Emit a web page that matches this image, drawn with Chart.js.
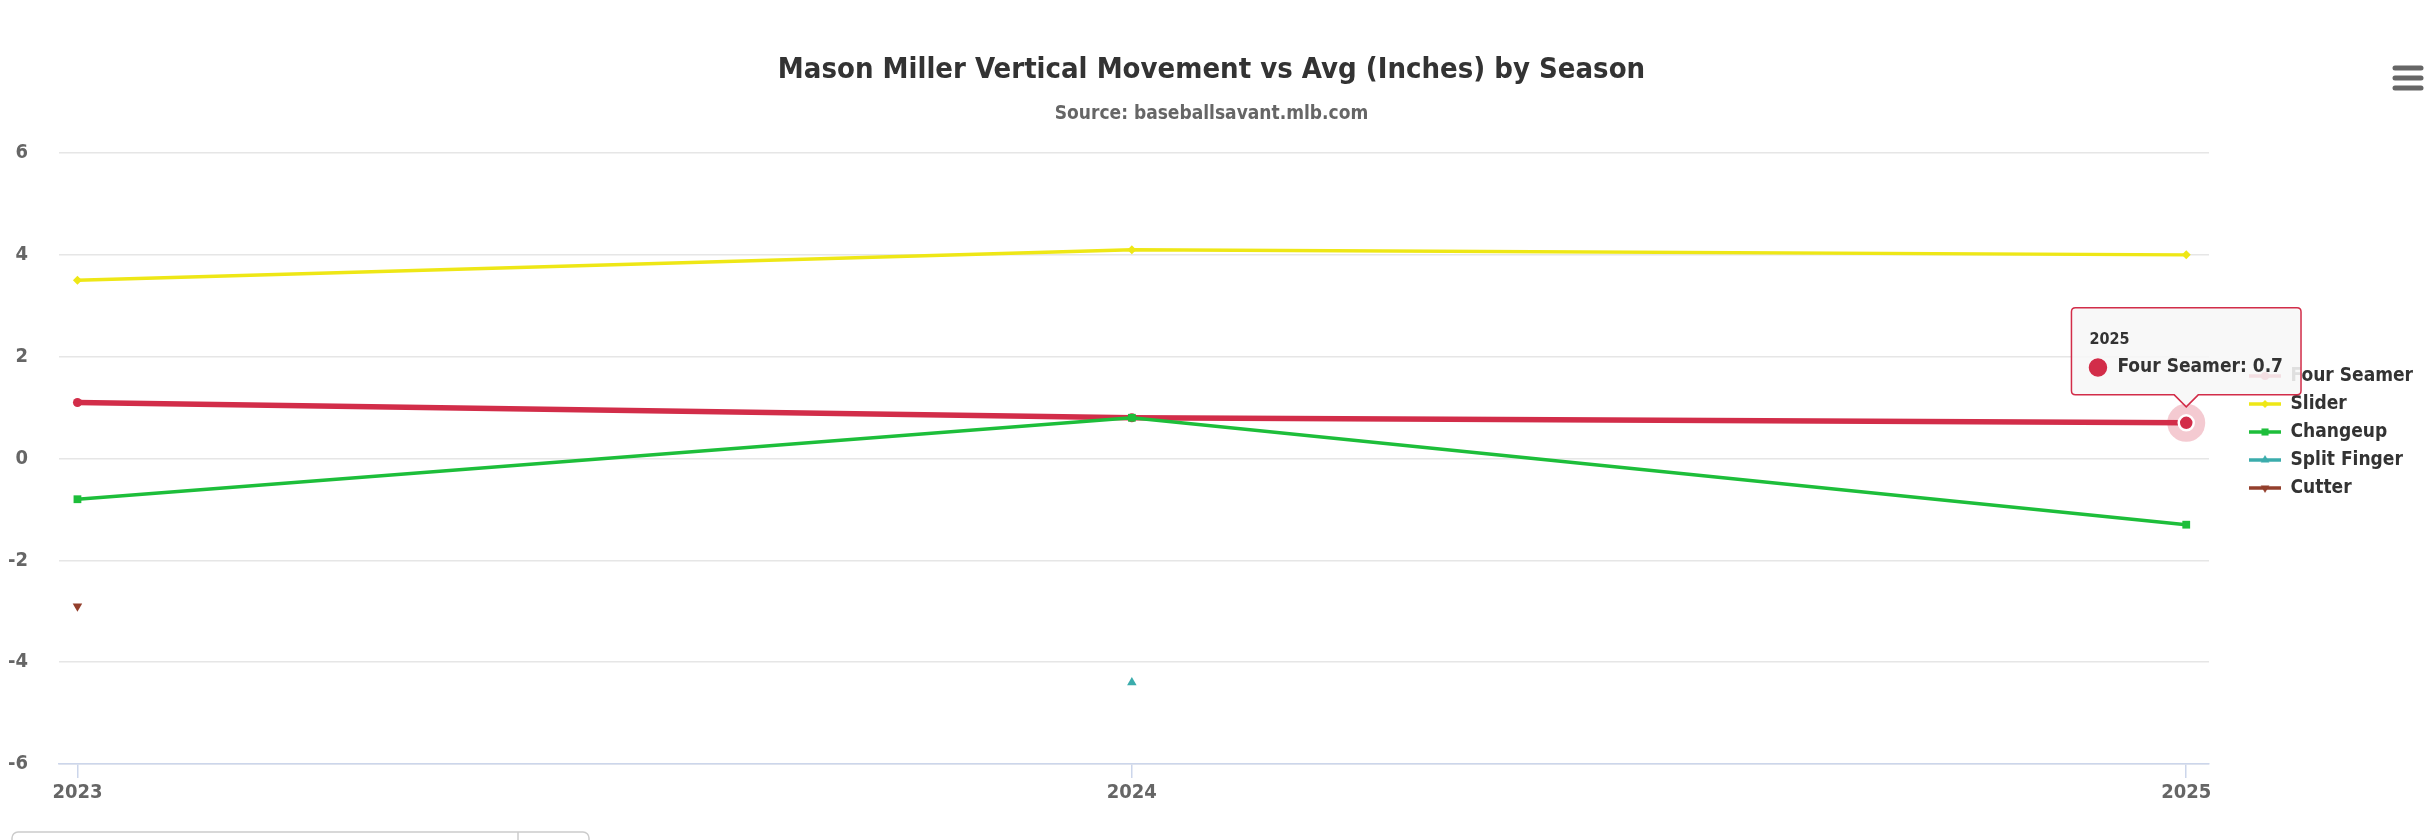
<!DOCTYPE html>
<html>
<head>
<meta charset="utf-8">
<script src="https://cdn.jsdelivr.net/npm/chart.js@4.4.1/dist/chart.umd.min.js"></script>
<style>
html,body{margin:0;padding:0;background:#fff;overflow:hidden}
#wrap{position:relative;width:2426px;height:840px}
</style>
</head>
<body>
<div id="wrap"><canvas id="c"></canvas></div>
<script>
// ---- data ----
const seasons = [2023, 2024, 2025];
const fourSeamer = [1.1, 0.8, 0.7];
const slider = [3.5, 4.1, 4.0];
const changeup = [-0.8, 0.8, -1.3];
const splitFinger = [null, -4.4, null];
const cutter = [-2.9, null, null];
const yTickValues = [-6, -4, -2, 0, 2, 4, 6];
const titleText = 'Mason Miller Vertical Movement vs Avg (Inches) by Season';
const subtitleText = 'Source: baseballsavant.mlb.com';

// ---- styling ----
const FONT = "'Liberation Sans Narrow', 'DejaVu Sans Condensed', Roboto, sans-serif";

function toPoints(vals) {
  return seasons.map((s, i) => ({ x: s, y: vals[i] }));
}

function legendIcon(color, style, rotation, radius) {
  const cv = document.createElement('canvas');
  cv.width = 32; cv.height = 16;
  const ctx = cv.getContext('2d');
  ctx.strokeStyle = color;
  ctx.lineWidth = 3.5;
  ctx.beginPath(); ctx.moveTo(0, 8); ctx.lineTo(32, 8); ctx.stroke();
  ctx.fillStyle = color;
  Chart.helpers.drawPoint(ctx, { pointStyle: style, rotation: rotation, radius: radius, borderWidth: 0 }, 16, 8);
  return cv;
}

const seriesDefs = [
  { label: 'Four Seamer', values: fourSeamer, color: '#d22d49', style: 'circle', rot: 0, r: 4.5, w: 5.5 },
  { label: 'Slider', values: slider, color: '#eee716', style: 'rectRot', rot: 0, r: 4.5, w: 3.4 },
  { label: 'Changeup', values: changeup, color: '#1dbe3a', style: 'rect', rot: 0, r: 5.5, w: 3.4 },
  { label: 'Split Finger', values: splitFinger, color: '#3bacac', style: 'triangle', rot: 0, r: 5.5, w: 3.4 },
  { label: 'Cutter', values: cutter, color: '#933f2c', style: 'triangle', rot: 180, r: 5.5, w: 3.4 }
];

const datasets = seriesDefs.map((d, i) => ({
  label: d.label,
  data: toPoints(d.values),
  borderColor: d.color,
  backgroundColor: d.color,
  borderWidth: d.w,
  pointStyle: d.style,
  pointRotation: d.rot,
  pointRadius: d.r,
  pointBorderWidth: 0,
  pointBackgroundColor: d.color,
  pointHoverRadius: i === 0 ? 7.5 : d.r,
  pointHoverBorderWidth: i === 0 ? 2.5 : 0,
  pointHoverBorderColor: '#ffffff',
  pointHoverBackgroundColor: d.color,
  tension: 0,
  spanGaps: false,
  order: 5 - i,
  legendIcon: legendIcon(d.color, d.style, d.rot, d.r - 0.5)
}));

const haloPlugin = {
  id: 'halo',
  beforeDatasetsDraw(chart) {
    const ctx = chart.ctx;
    chart.getActiveElements().forEach(a => {
      const el = a.element;
      ctx.save();
      ctx.fillStyle = 'rgba(210,45,73,0.25)';
      ctx.beginPath(); ctx.arc(el.x, el.y, 19, 0, Math.PI * 2); ctx.fill();
      ctx.restore();
    });
  }
};

const decorPlugin = {
  id: 'decor',
  afterDraw(chart) {
    const ctx = chart.ctx;
    ctx.save();
    // menu icon
    ctx.strokeStyle = '#666666';
    ctx.lineWidth = 5;
    ctx.lineCap = 'round';
    [68, 78, 88].forEach(y => {
      ctx.beginPath(); ctx.moveTo(2395, y); ctx.lineTo(2421, y); ctx.stroke();
    });
    // partial control box at the bottom
    ctx.strokeStyle = '#cccccc';
    ctx.lineWidth = 1.5;
    ctx.lineCap = 'butt';
    ctx.beginPath();
    ctx.roundRect(12, 832, 577, 40, 6);
    ctx.stroke();
    ctx.beginPath(); ctx.moveTo(518, 832); ctx.lineTo(518, 840); ctx.stroke();
    ctx.restore();
  }
};

const chart = new Chart(document.getElementById('c'), {
  type: 'line',
  data: { datasets: datasets },
  plugins: [haloPlugin, decorPlugin],
  options: {
    responsive: true,
    maintainAspectRatio: false,
    animation: false,
    layout: { padding: { top: 0, left: 0, right: 3, bottom: 40 } },
    interaction: { mode: 'nearest', intersect: true },
    scales: {
      x: {
        type: 'linear',
        min: seasons[0] - 0.0175,
        max: seasons[seasons.length - 1] + 0.0216,
        afterBuildTicks: s => { s.ticks = seasons.map(v => ({ value: v })); },
        afterFit: s => { s.height = 36; },
        grid: { drawOnChartArea: false, drawTicks: true, tickLength: 14, color: '#ccd6eb', lineWidth: 1.5 },
        border: { display: true, color: '#ccd6eb', width: 1.5 },
        ticks: {
          padding: 3,
          color: '#666666',
          font: { family: FONT, size: 20, weight: 'bold' },
          callback: v => String(v),
          maxRotation: 0
        }
      },
      y: {
        type: 'linear',
        min: -6,
        max: 6,
        afterBuildTicks: s => { s.ticks = yTickValues.map(v => ({ value: v })); },
        afterFit: s => { s.width = 59; },
        grid: { color: '#e6e6e6', lineWidth: 1.5, drawTicks: false },
        border: { display: false },
        ticks: {
          padding: 31,
          color: '#666666',
          font: { family: FONT, size: 20, weight: 'bold' },
          callback: v => String(v)
        }
      },
      gap: {
        type: 'linear',
        position: 'right',
        display: true,
        grid: { display: false, drawTicks: false },
        border: { display: false },
        ticks: { display: false },
        afterFit: s => { s.width = 31; }
      }
    },
    plugins: {
      title: {
        display: true,
        text: titleText,
        color: '#333333',
        font: { family: FONT, size: 29, weight: 'bold', lineHeight: 1.2 },
        padding: { top: 52.6, bottom: 0 }
      },
      subtitle: {
        display: true,
        text: subtitleText,
        color: '#666666',
        font: { family: FONT, size: 19, weight: 'bold', lineHeight: 1.2 },
        padding: { top: 15.2, bottom: 27.6 }
      },
      legend: {
        display: true,
        position: 'right',
        align: 'start',
        title: { display: true, text: ' ', font: { size: 10, lineHeight: 1.2 }, padding: { top: 345.5, bottom: 0 } },
        labels: {
          usePointStyle: true,
          pointStyleWidth: 32,
          boxHeight: 16,
          padding: 9,
          color: '#333333',
          font: { family: FONT, size: 19, weight: 'bold' },
          generateLabels: ch => ch.data.datasets.map((ds, i) => ({
            text: ds.label,
            pointStyle: ds.legendIcon,
            fillStyle: ds.borderColor,
            strokeStyle: ds.borderColor,
            lineWidth: 0,
            hidden: false,
            datasetIndex: i,
            fontColor: '#333333'
          }))
        }
      },
      tooltip: {
        enabled: true,
        backgroundColor: 'rgba(247,247,247,0.88)',
        borderColor: '#d22d49',
        borderWidth: 1.5,
        cornerRadius: 4,
        caretSize: 12,
        caretPadding: 16,
        xAlign: 'center',
        yAlign: 'bottom',
        padding: { top: 22, bottom: 16, left: 18, right: 18 },
        titleColor: '#333333',
        bodyColor: '#333333',
        titleFont: { family: FONT, size: 16, weight: 'bold' },
        bodyFont: { family: FONT, size: 19, weight: 'bold' },
        titleMarginBottom: 7,
        displayColors: true,
        usePointStyle: true,
        boxWidth: 17,
        boxHeight: 17,
        boxPadding: 9,
        callbacks: {
          title: items => String(items[0].raw.x),
          label: c => c.dataset.label + ': ' + c.parsed.y,
          labelColor: c => ({ borderColor: c.dataset.borderColor, backgroundColor: c.dataset.borderColor, borderWidth: 0 }),
          labelPointStyle: () => ({ pointStyle: 'circle', rotation: 0 })
        }
      }
    }
  }
});

const activePt = chart.getDatasetMeta(0).data[2];
chart.setActiveElements([{ datasetIndex: 0, index: 2 }]);
chart.tooltip.setActiveElements([{ datasetIndex: 0, index: 2 }], { x: activePt.x, y: activePt.y });
chart.update();
</script>
</body>
</html>
